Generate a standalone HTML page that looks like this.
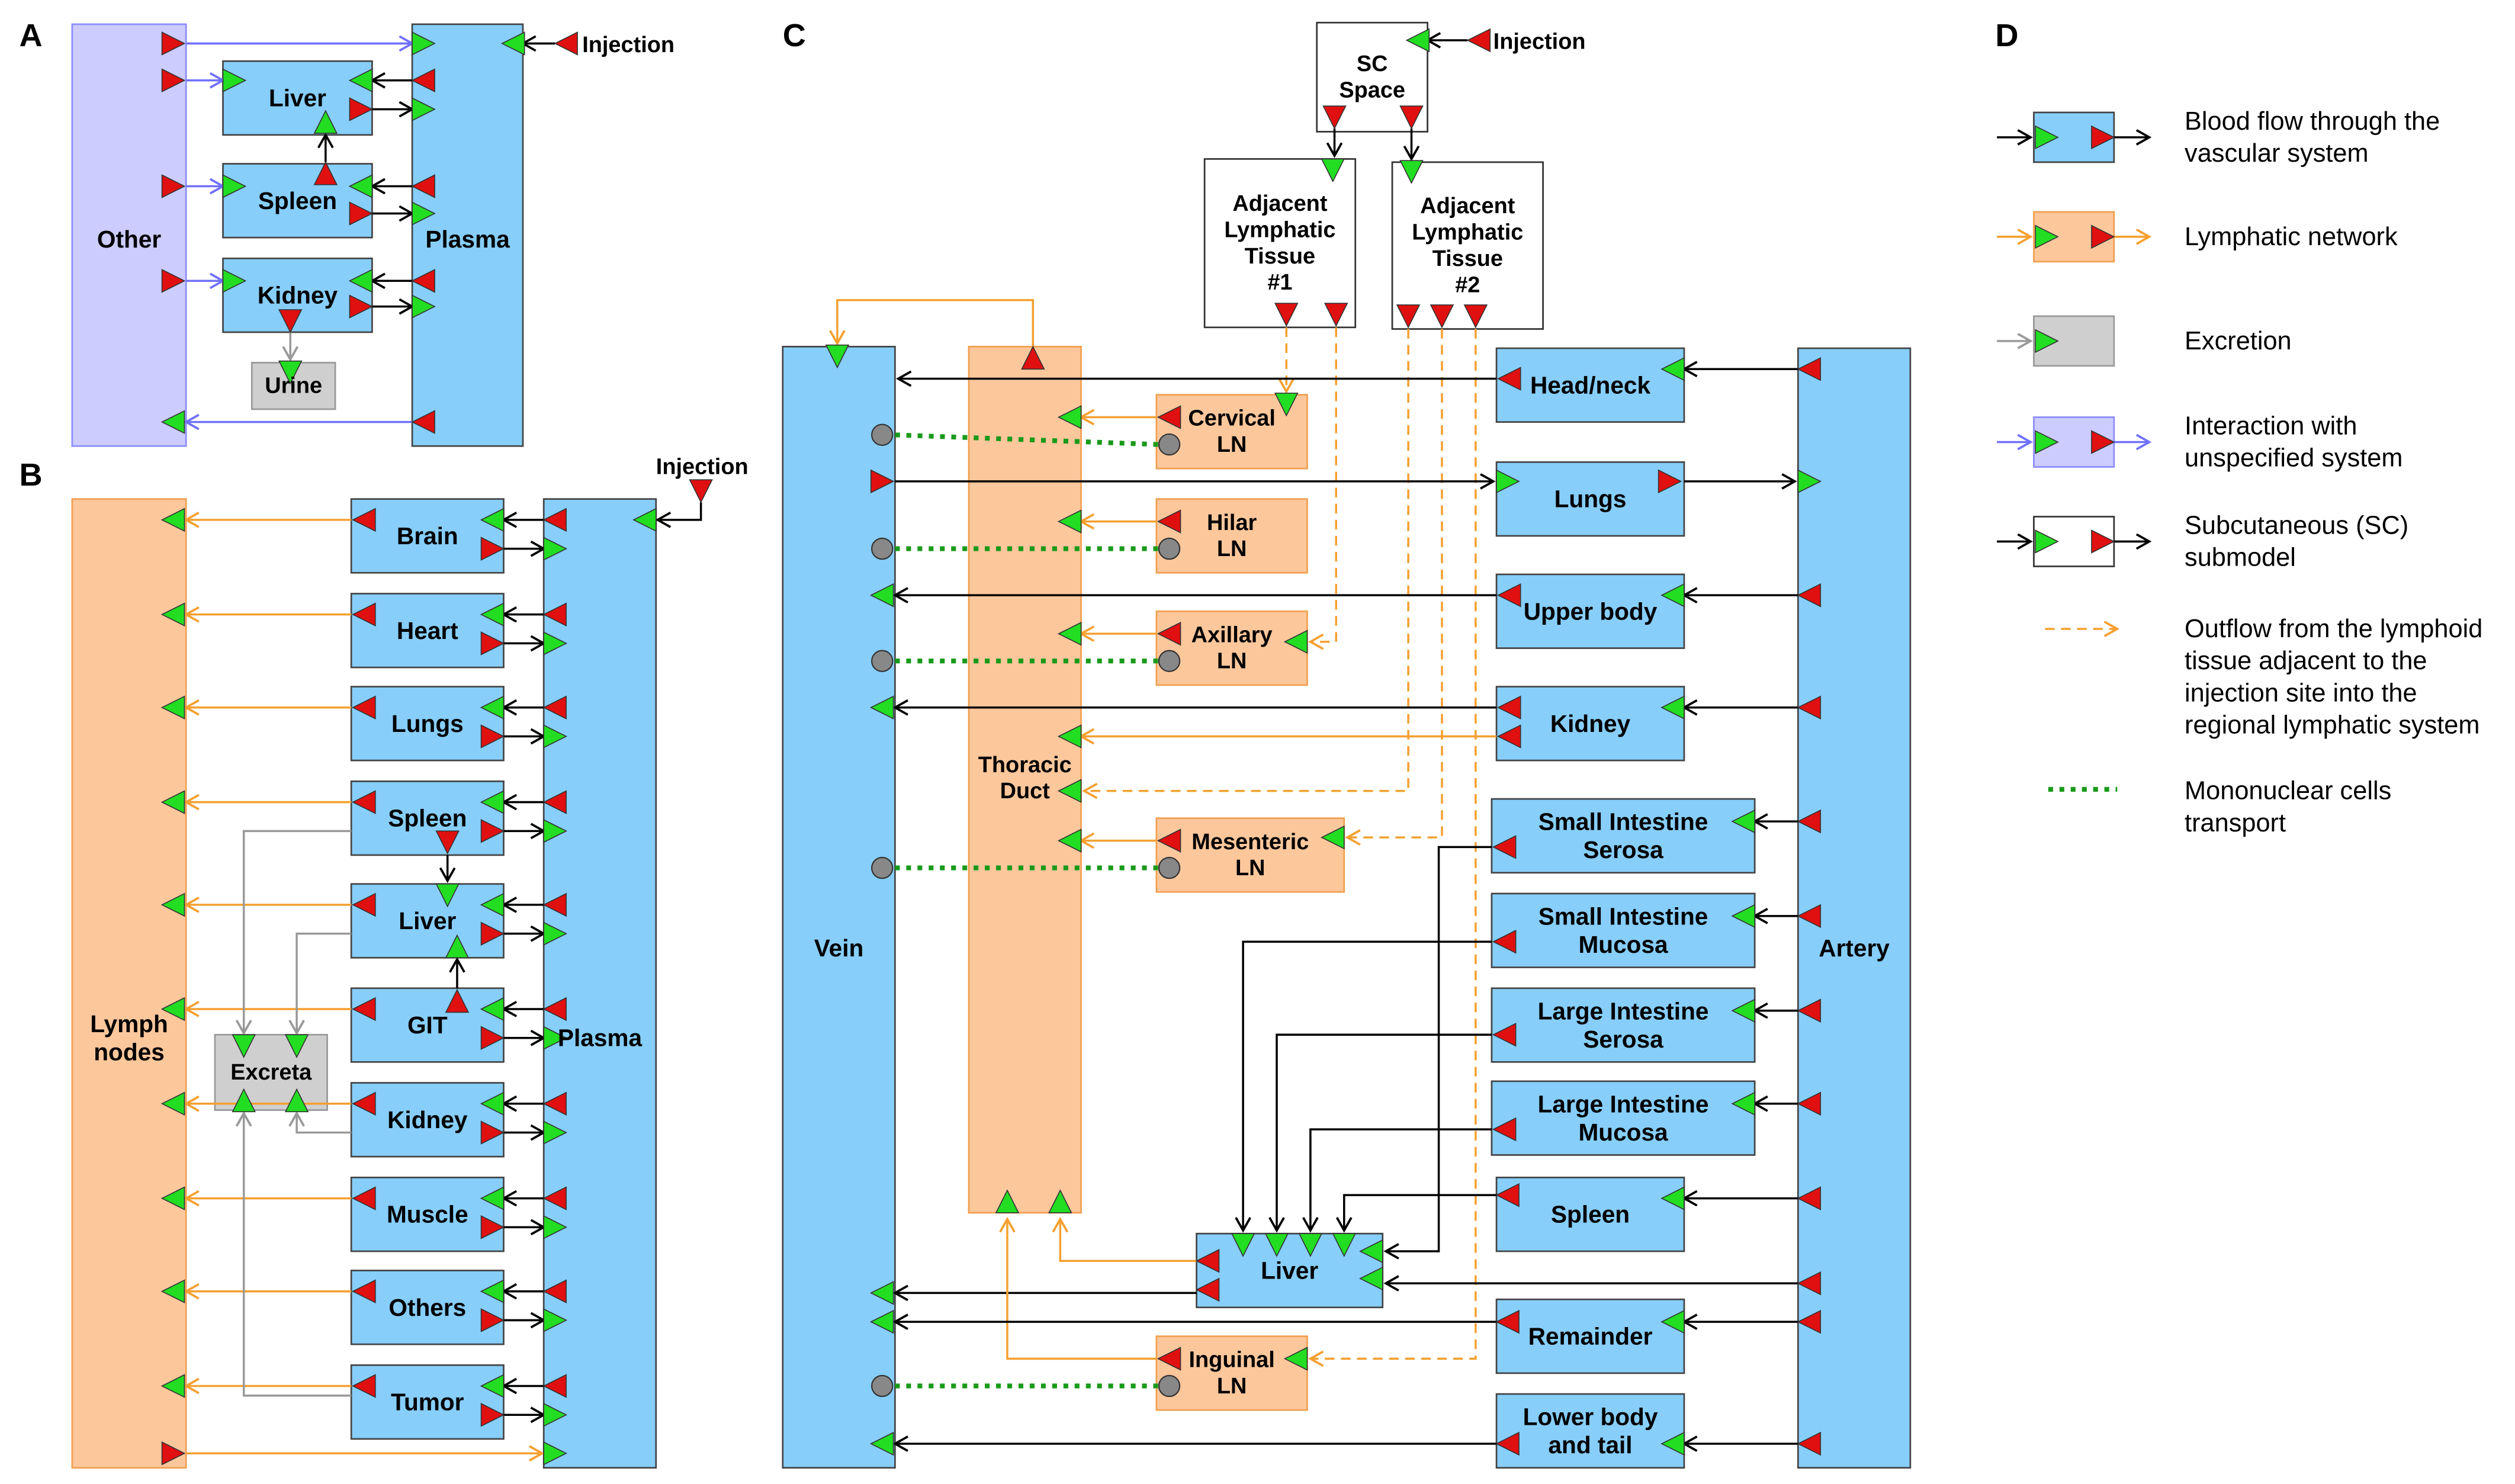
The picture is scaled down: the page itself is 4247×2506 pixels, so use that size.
<!DOCTYPE html>
<html><head><meta charset="utf-8"><style>
html,body{margin:0;padding:0;background:#fff}
svg{display:block}
text{font-family:"Liberation Sans",Arial,sans-serif}
</style></head><body>
<svg id="s" xmlns="http://www.w3.org/2000/svg" width="4247" height="2506" viewBox="0 0 1568 925">
<defs></defs>
</svg>
<script>
const S=document.getElementById('s');const NS='http://www.w3.org/2000/svg';
const G1=document.createElementNS(NS,'g'),G2=document.createElementNS(NS,'g'),G3=document.createElementNS(NS,'g'),G4=document.createElementNS(NS,'g');
S.appendChild(G1);S.appendChild(G2);S.appendChild(G3);S.appendChild(G4);
function el(p,t,a){const e=document.createElementNS(NS,t);for(const k in a)e.setAttribute(k,a[k]);p.appendChild(e);return e;}
const COL={k:'#000',o:'#f5a030',p:'#7070ff',g:'#999',dg:'#1a9a1a'};
const defs=S.querySelector('defs');
for(const c in COL){const m=el(defs,'marker',{id:'m'+c,markerUnits:'userSpaceOnUse',markerWidth:12,markerHeight:12,refX:9,refY:5,orient:'auto'});
el(m,'path',{d:'M1,0.5 L9,5 L1,9.5',fill:'none',stroke:COL[c],'stroke-width':1.4});}
const FILL={b:['#87cefa','#444'],o:['#fdc79c','#f0a050'],p:['#ccccff','#8c8cff'],g:['#cfcfcf','#999'],w:['#fff','#333']};
function box(x1,y1,x2,y2,f,label,fs,cyo){const [fi,st]=FILL[f];el(G1,'rect',{x:x1,y:y1,width:x2-x1,height:y2-y1,fill:fi,stroke:st,'stroke-width':1});
if(label){const L=label.split('|');const cx=(x1+x2)/2,cy=cyo||(y1+y2)/2;const lh=(fs||15)*1.17;L.forEach((t,i)=>{txt(cx,cy+(i-(L.length-1)/2)*lh,t,fs||15,true,'middle');});}}
function txt(x,y,t,fs,b,anc){const e=el(G4,'text',{x:x,y:y,'font-size':fs,'font-weight':b?'bold':'normal','text-anchor':anc||'start','dominant-baseline':'central',fill:'#000'});e.textContent=t;}
function ln(pts,c,style,noArrow){const a={points:pts.map(p=>p.join(',')).join(' '),fill:'none',stroke:COL[c],'stroke-width':c=='dg'?3:1.3};
if(!noArrow)a['marker-end']='url(#m'+c+')';if(style=='d')a['stroke-dasharray']='6,4';if(style=='t')a['stroke-dasharray']='3,4';el(G2,'polyline',a);}
function tri(cx,cy,d,c){const s=7;let p;
if(d=='r')p=[[cx-s,cy-s],[cx+s,cy],[cx-s,cy+s]];if(d=='l')p=[[cx+s,cy-s],[cx-s,cy],[cx+s,cy+s]];
if(d=='d')p=[[cx-s,cy-s],[cx+s,cy-s],[cx,cy+s]];if(d=='u')p=[[cx-s,cy+s],[cx+s,cy+s],[cx,cy-s]];
el(G3,'polygon',{points:p.map(q=>q.join(',')).join(' '),fill:c=='r'?'#e01010':'#22dd22',stroke:'#333','stroke-width':0.6});}
function circ(cx,cy){el(G3,'circle',{cx:cx,cy:cy,r:6.5,fill:'#888',stroke:'#333','stroke-width':0.8});}
txt(12,22,'A',20,true);txt(12,296,'B',20,true);txt(488,22,'C',20,true);txt(1244,22,'D',20,true);
// ===== Panel A
box(45,15,116,278,'p','Other',15,149);box(257,15,326,278,'b','Plasma',15,149);
box(139,38,232,84,'b','Liver');box(139,102,232,148,'b','Spleen');box(139,161,232,207,'b','Kidney');box(157,226,209,255,'g','Urine',14);
tri(108,27,'r','r');ln([[116,27],[257,27]],'p');tri(264,27,'r','g');
[[50,68],[116,133],[175,191]].forEach(([a,b])=>{tri(108,a,'r','r');ln([[116,a],[139,a]],'p');tri(146,a,'r','g');
tri(264,a,'l','r');ln([[257,a],[232,a]],'k');tri(225,a,'l','g');tri(225,b,'r','r');ln([[232,b],[257,b]],'k');tri(264,b,'r','g');});
tri(203,76,'u','g');tri(203,108,'u','r');ln([[203,101],[203,84]],'k');
tri(181,200,'d','r');ln([[181,207],[181,224]],'g');tri(181,232,'d','g');
tri(264,263,'l','r');ln([[257,263],[116,263]],'p');tri(108,263,'l','g');
tri(353,27,'l','r');ln([[346,27],[326,27]],'k');tri(320,27,'l','g');txt(363,28,'Injection',14,true);
// ===== Panel B
box(45,311,116,915,'o','Lymph|nodes',15,647);box(339,311,409,915,'b','Plasma',15,647);
const rows=[['Brain',311],['Heart',370],['Lungs',428],['Spleen',487],['Liver',551],['GIT',616],['Kidney',675],['Muscle',734],['Others',792],['Tumor',851]];
rows.forEach(([n,y])=>{box(219,y,314,y+46,'b',n);const a=y+13,b=y+31;
tri(227,a,'l','r');ln([[219,a],[116,a]],'o');tri(108,a,'l','g');
tri(346,a,'l','r');ln([[339,a],[314,a]],'k');tri(307,a,'l','g');tri(307,b,'r','r');ln([[314,b],[339,b]],'k');tri(346,b,'r','g');});
tri(279,525,'d','r');ln([[279,533],[279,549]],'k');tri(279,558,'d','g');
tri(285,624,'u','r');ln([[285,616],[285,598]],'k');tri(285,590,'u','g');
box(134,645,204,692,'g','Excreta',14);
ln([[219,518],[152,518],[152,644]],'g');ln([[219,582],[185,582],[185,644]],'g');
ln([[219,706],[185,706],[185,694]],'g');ln([[219,870],[152,870],[152,694]],'g');
tri(152,652,'d','g');tri(185,652,'d','g');tri(152,686,'u','g');tri(185,686,'u','g');
tri(108,906,'r','r');ln([[116,906],[338,906]],'o');tri(346,906,'r','g');
txt(409,291,'Injection',14,true);tri(437,306,'d','r');ln([[437,313],[437,324],[410,324]],'k');tri(402,324,'l','g');
// ===== Panel C
box(488,216,558,915,'b','Vein',15,591);box(604,216,674,756,'o','Thoracic|Duct',14,485);box(1121,217,1191,915,'b','Artery',15,591);
box(821,14,890,82,'w','SC|Space',14);box(751,99,845,204,'w','Adjacent|Lymphatic|Tissue|#1',14);box(868,101,962,205,'w','Adjacent|Lymphatic|Tissue|#2',14);
tri(922,25,'l','r');ln([[915,25],[890,25]],'k');tri(884,25,'l','g');txt(931,26,'Injection',14,true);
tri(832,73,'d','r');tri(880,73,'d','r');ln([[832,80],[832,97]],'k');ln([[880,80],[880,99]],'k');tri(831,106,'d','g');tri(880,107,'d','g');
tri(802,196,'d','r');tri(833,196,'d','r');tri(878,197,'d','r');tri(899,197,'d','r');tri(920,197,'d','r');
tri(522,222,'d','g');tri(644,223,'u','r');ln([[644,216],[644,187],[522,187],[522,214]],'o');
const LN=[['Cervical|LN',721,246,815,271],['Hilar|LN',721,311,815,342],['Axillary|LN',721,381,815,412],['Mesenteric|LN',721,510,838,541],['Inguinal|LN',721,833,815,864]];
LN.forEach(([n,x1,y1,x2,vc],i)=>{const y2=y1+46;box(x1,y1,x2,y2,'o',n,14);const a=y1+14,b=y1+31;
tri(729,a,'l','r');if(i!=4){ln([[721,a],[674,a]],'o');tri(667,a,'l','g');}
circ(729,b);circ(550,vc);ln([[722,b],[557,vc]],'dg','t',true);});
ln([[802,204],[802,244]],'o','d');tri(802,252,'d','g');
ln([[833,204],[833,400],[817,400]],'o','d');tri(808,400,'l','g');
ln([[899,205],[899,522],[840,522]],'o','d');tri(831,522,'l','g');
ln([[920,205],[920,847],[817,847]],'o','d');tri(808,847,'l','g');
ln([[878,205],[878,493],[676,493]],'o','d');tri(667,493,'l','g');
const OR=[['Head/neck',933,217,1050],['Lungs',933,288,1050],['Upper body',933,358,1050],['Kidney',933,428,1050],['Small Intestine|Serosa',930,498,1094],['Small Intestine|Mucosa',930,557,1094],['Large Intestine|Serosa',930,616,1094],['Large Intestine|Mucosa',930,674,1094],['Spleen',933,734,1050],['Remainder',933,810,1050],['Lower body|and tail',933,869,1050]];
OR.forEach(([n,x1,y1,x2])=>box(x1,y1,x2,y1+46,'b',n,15));
box(746,769,862,815,'b','Liver',15);
function art(y,x2){tri(1128,y,'l','r');ln([[1121,y],[x2,y]],'k');tri(x2-7,y,'l','g');}
tri(941,236,'l','r');ln([[933,236],[560,236]],'k');art(230,1050);
tri(550,300,'r','r');ln([[558,300],[931,300]],'k');tri(940,300,'r','g');tri(1041,300,'r','r');ln([[1050,300],[1119,300]],'k');tri(1128,300,'r','g');
tri(941,371,'l','r');ln([[933,371],[558,371]],'k');tri(550,371,'l','g');art(371,1050);
tri(941,441,'l','r');ln([[933,441],[558,441]],'k');tri(550,441,'l','g');tri(941,459,'l','r');ln([[933,459],[674,459]],'o');tri(667,459,'l','g');art(441,1050);
tri(938,528,'l','r');ln([[930,528],[897,528],[897,780],[864,780]],'k');art(512,1094);
tri(938,587,'l','r');ln([[930,587],[775,587],[775,767]],'k');art(571,1094);
tri(938,645,'l','r');ln([[930,645],[796,645],[796,767]],'k');art(630,1094);
tri(938,704,'l','r');ln([[930,704],[817,704],[817,767]],'k');art(688,1094);
tri(940,745,'l','r');ln([[933,745],[838,745],[838,767]],'k');art(747,1050);
tri(775,776,'d','g');tri(796,776,'d','g');tri(817,776,'d','g');tri(838,776,'d','g');tri(855,780,'l','g');tri(855,797,'l','g');
tri(1128,800,'l','r');ln([[1121,800],[864,800]],'k');
tri(753,786,'l','r');ln([[746,786],[661,786],[661,760]],'o');
tri(753,804,'l','r');ln([[746,806],[558,806]],'k');tri(550,806,'l','g');
ln([[721,847],[628,847],[628,760]],'o');tri(628,749,'u','g');tri(661,749,'u','g');
tri(940,824,'l','r');ln([[933,824],[558,824]],'k');tri(550,824,'l','g');art(824,1050);
tri(940,900,'l','r');ln([[933,900],[558,900]],'k');tri(550,900,'l','g');art(900,1050);
// ===== Panel D
const LG=[['b',70,'k',['Blood flow through the','vascular system']],['o',132,'o',['Lymphatic network']],['g',197,'g',['Excretion']],['p',260,'p',['Interaction with','unspecified system']],['w',322,'k',['Subcutaneous (SC)','submodel']]];
LG.forEach(([f,y,c,t])=>{box(1268,y,1318,y+31,f);const cy=y+15.5;ln([[1245,cy],[1266,cy]],c);tri(1276,cy,'r','g');
if(f!='g'){tri(1311,cy,'r','r');ln([[1318,cy],[1340,cy]],c);}
t.forEach((s,i)=>txt(1362,cy+(i-(t.length-1)/2)*20,s,16,false));});
ln([[1275,392],[1320,392]],'o','d');
['Outflow from the lymphoid','tissue adjacent to the','injection site into the','regional lymphatic system'].forEach((s,i)=>txt(1362,392+i*20,s,16,false));
ln([[1277,492],[1320,492]],'dg','t',true);
['Mononuclear cells','transport'].forEach((s,i)=>txt(1362,493+i*20,s,16,false));
</script>
</body></html>
